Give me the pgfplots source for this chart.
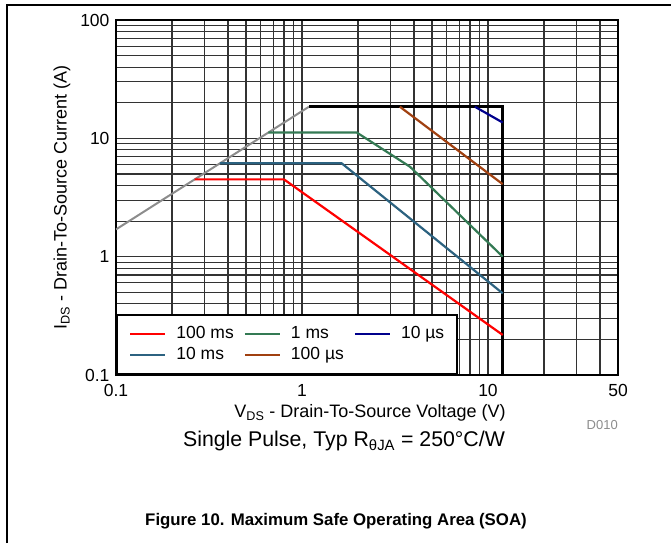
\documentclass[border=0pt]{standalone}
\usepackage{fontspec}
\setmainfont{Liberation Sans}
\usepackage{pgfplots}
\pgfplotsset{compat=1.18}
\definecolor{c100ms}{RGB}{255,0,0}
\definecolor{c1ms}{RGB}{52,122,84}
\definecolor{c10us}{RGB}{0,0,140}
\definecolor{c10ms}{RGB}{44,98,128}
\definecolor{c100us}{RGB}{160,64,16}
\definecolor{climit}{RGB}{140,140,140}
\begin{document}
\begin{tikzpicture}
\useasboundingbox (0,0) rectangle (671pt,-543pt);
\draw[line width=1.6pt] (7pt,-543pt) -- (7pt,-5pt) -- (671pt,-5pt);
\begin{axis}[
  at={(116pt,-375pt)}, anchor=south west, scale only axis,
  width=502pt, height=355pt,
  xmode=log, ymode=log, xmin=0.1, xmax=50, ymin=0.1, ymax=100,
  xtick={0.1,1,10,50}, xticklabels={0.1,1,10,50},
  ytick={0.1,1,10,100}, yticklabels={0.1,1,10,100},
  minor xtick={0.2,0.3,0.4,0.5,0.6,0.7,0.8,0.9,2,3,4,5,6,7,8,9,20,30,40},
  minor ytick={0.2,0.3,0.4,0.5,0.6,0.7,0.8,0.9,2,3,4,5,6,7,8,9,20,30,40,50,60,70,80,90},
  grid=both,
  major grid style={black!80, line width=1.1pt},
  minor grid style={black!80, line width=1.1pt},
  tick style={draw=none},
  axis line style={line width=2.2pt},
  tick label style={font=\fontsize{17.5}{21}\selectfont},
  xticklabel style={yshift=-6pt},
  yticklabel style={xshift=-3pt},
  legend columns=3,
  legend cell align=left,
  legend image code/.code={\draw[#1] (0pt,0pt) -- (35pt,0pt);},
  legend style={at={(0,0)}, anchor=south west, draw=black, line width=2.4pt,
    fill=white, font=\fontsize{17.5}{21}\selectfont,
    inner xsep=12pt, inner ysep=10pt, row sep=3pt,
    nodes={inner sep=1pt, text height=12.5pt, text depth=3.5pt},
    /tikz/every odd column/.append style={column sep=9pt},
    /tikz/every even column/.append style={column sep=9pt}},
]
\addplot[climit, line width=2pt, forget plot] coordinates {(0.1,1.7) (1.09,18.5)};
\addplot[black, line width=2.6pt, forget plot] coordinates {(1.09,18.5) (12,18.5) (12,0.1)};
\addplot[c100ms, line width=2.2pt] coordinates {(0.265,4.5) (0.80,4.5) (12,0.218)};
\addlegendentry{100 ms}
\addplot[c1ms, line width=2.2pt] coordinates {(0.659,11.2) (1.97,11.2) (3.81,5.75) (12,1.0)};
\addlegendentry{1 ms}
\addplot[c10us, line width=2.2pt] coordinates {(8.5,18.5) (12,13.6)};
\addlegendentry{10 µs}
\addplot[c10ms, line width=2.2pt] coordinates {(0.362,6.15) (1.635,6.15) (12,0.49)};
\addlegendentry{10 ms}
\addplot[c100us, line width=2.2pt] coordinates {(3.36,18.5) (12,4.1)};
\addlegendentry{100 µs}
\end{axis}
\node[font=\fontsize{18}{21}\selectfont] at (370pt,-413pt) {V\textsubscript{DS} - Drain-To-Source Voltage (V)};
\node[rotate=90, font=\fontsize{18}{21}\selectfont] at (62pt,-197.5pt) {I\textsubscript{DS} - Drain-To-Source Current (A)};
\node[anchor=east, text=black!45, font=\fontsize{13}{15}\selectfont, inner sep=0pt] at (618pt,-425pt) {D010};
\node[font=\fontsize{21.3}{25}\selectfont] at (344pt,-441pt) {Single Pulse, Typ R\textsubscript{θJA} = 250°C/W};
\node[font=\bfseries\fontsize{16.8}{20}\selectfont] at (336pt,-521pt) {Figure 10. Maximum Safe Operating Area (SOA)};
\end{tikzpicture}
\end{document}
